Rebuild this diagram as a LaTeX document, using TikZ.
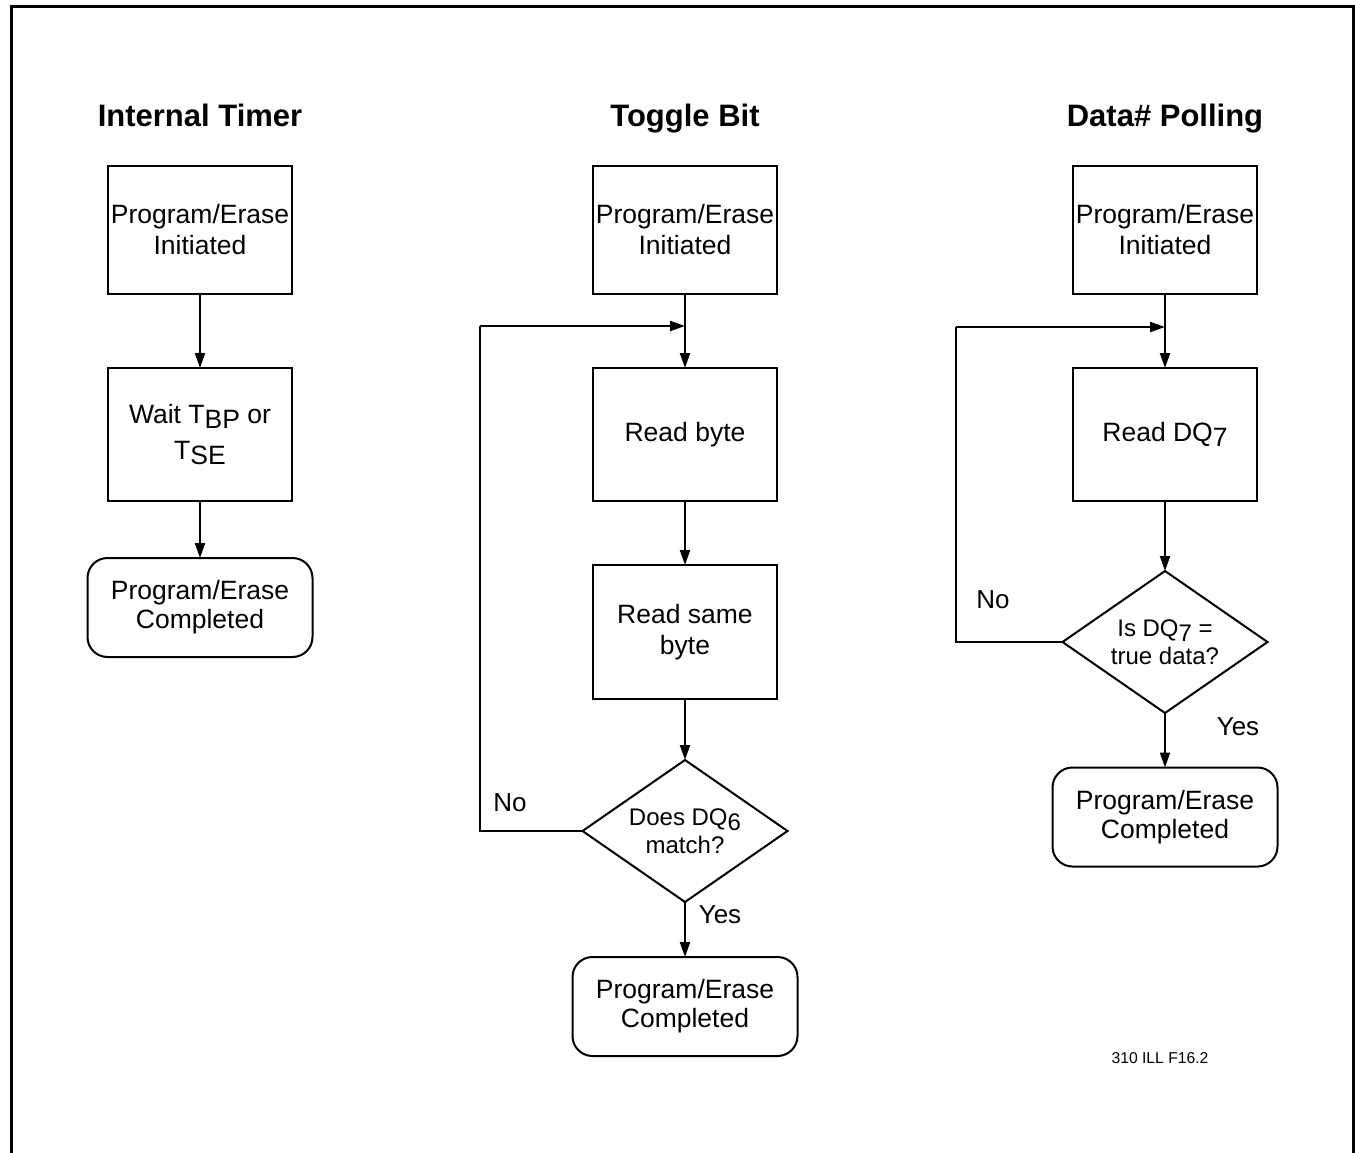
\documentclass[tikz,border=0pt]{standalone}
\usepackage{fontspec}
\setmainfont{Liberation Sans}
\usetikzlibrary{shapes.geometric,arrows.meta}
\newcommand{\lowsub}[1]{\raisebox{-0.38ex}{#1}}
\begin{document}
\begin{tikzpicture}[x=1pt,y=-1pt,
  every node/.style={inner sep=0pt, outer sep=0pt},
  txt/.style={font=\fontsize{26.5}{31}\selectfont, align=center},
  ttl/.style={font=\fontsize{31}{36}\selectfont\bfseries, anchor=base},
  stepbox/.style={draw, line width=2pt, txt, minimum width=184pt},
  endbox/.style={draw, line width=2pt, rounded corners=20pt, txt, minimum width=225pt, minimum height=99pt, font=\fontsize{26.5}{29}\selectfont},
  decision/.style={draw, line width=2pt, diamond, aspect=1.44, minimum width=205pt, minimum height=142pt, align=center, font=\fontsize{24}{28}\selectfont},
  lbl/.style={font=\fontsize{26}{30}\selectfont},
  arr/.style={line width=2pt, -{Triangle[length=15pt,width=10pt]}},
  ln/.style={line width=2pt}]
\useasboundingbox (0,0) rectangle (1355,1153);
\draw[line width=3pt] (11,1153) -- (11,7) -- (1353,7) -- (1353,1153);

% Internal Timer
\node[ttl] (t1) at (200,127) {Internal Timer};
\node[stepbox, minimum height=128pt] (a1) at (200,230) {Program/Erase\\Initiated};
\node[stepbox, minimum height=133pt, font=\fontsize{26.5}{36}\selectfont] (a2) at (200,434.5) {Wait T\lowsub{BP} or\\T\lowsub{SE}};
\node[endbox] (a3) at (200,607.5) {Program/Erase\\Completed};
\draw[arr] (a1.south) -- (a2.north);
\draw[arr] (a2.south) -- (a3.north);

% Toggle Bit
\node[ttl] (t2) at (685,127) {Toggle Bit};
\node[stepbox, minimum height=128pt] (b1) at (685,230) {Program/Erase\\Initiated};
\node[stepbox, minimum height=133pt] (b2) at (685,434.5) {Read byte};
\node[stepbox, minimum height=134pt] (b3) at (685,632) {Read same\\byte};
\node[decision] (b4) at (685,831) {Does DQ\lowsub{6}\\match?};
\node[endbox] (b5) at (685,1006.5) {Program/Erase\\Completed};
\coordinate (bj) at (685,326);
\coordinate (bl) at (480,326);
\draw[arr] (b1.south) -- (b2.north);
\draw[arr] (b2.south) -- (b3.north);
\draw[arr] (b3.south) -- (b4.north);
\draw[arr] (b4.south) -- (b5.north);
\draw[ln] (b4.west) -| (bl);
\draw[arr] (bl) -- (bj);
\node[lbl] (bno) at (510,803) {No};
\node[lbl] (byes) at (720,915) {Yes};

% Data# Polling
\node[ttl] (t3) at (1165,127) {Data\# Polling};
\node[stepbox, minimum height=128pt] (c1) at (1165,230) {Program/Erase\\Initiated};
\node[stepbox, minimum height=133pt] (c2) at (1165,434.5) {Read DQ\lowsub{7}};
\node[decision] (c3) at (1165,642) {Is DQ\lowsub{7} =\\true data?};
\node[endbox] (c4) at (1165,817) {Program/Erase\\Completed};
\coordinate (cj) at (1165,327);
\coordinate (cl) at (956,327);
\draw[arr] (c1.south) -- (c2.north);
\draw[arr] (c2.south) -- (c3.north);
\draw[arr] (c3.south) -- (c4.north);
\draw[ln] (c3.west) -| (cl);
\draw[arr] (cl) -- (cj);
\node[lbl] (cno) at (993,600) {No};
\node[lbl] (cyes) at (1238,727) {Yes};

\node[font=\fontsize{15.7}{18}\selectfont] (ref) at (1160,1058) {310 ILL F16.2};
\end{tikzpicture}
\end{document}
